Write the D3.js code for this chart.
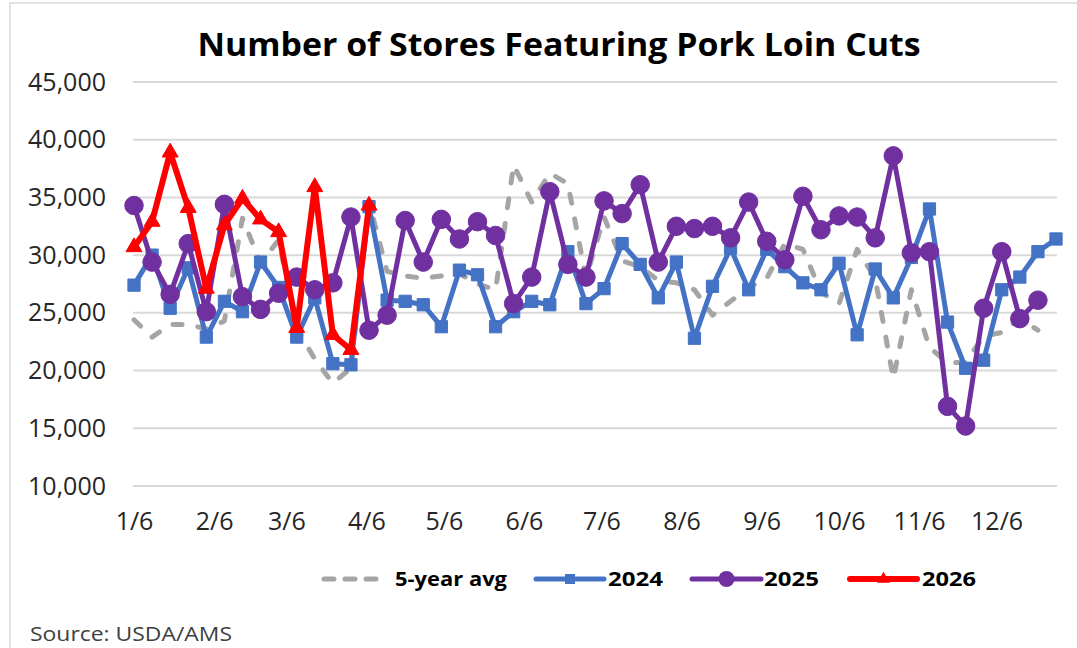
<!DOCTYPE html>
<html>
<head>
<meta charset="utf-8">
<script src="https://cdn.jsdelivr.net/npm/d3@7"></script>
<style>
    body { margin: 0; background: #fff; }
    svg { display: block; font-family: "Open Sans", "Noto Sans", sans-serif; }
</style>
</head>
<body>
<svg id="SVGlineChart" width="1077" height="648"></svg>
<script>
"use strict";

// weekly data, first point is the week of 1/6
const firstWeek = new Date(2025, 0, 6);
const tickLabels = ["1/6", "2/6", "3/6", "4/6", "5/6", "6/6", "7/6", "8/6", "9/6", "10/6", "11/6", "12/6"];
const yTicks = [10000, 15000, 20000, 25000, 30000, 35000, 40000, 45000];
const seriesNames = ["5-year avg", "2024", "2025", "2026"];

const avg5 = [24400, 22900, 24000, 24000, 23600, 24300, 33200, 29300, 31300, 23700,
    21000, 18900, 20200, 34600, 28600, 28200, 28000, 28200, 28400, 27500,
    27000, 37800, 34600, 37100, 36200, 28000, 33300, 29500, 29000, 27800,
    27600, 27000, 24800, 26000, 27200, 28000, 31000, 30500, 26800, 25800,
    30500, 28000, 19300, 27000, 22000, 20700, 20700, 23000, 23300, 24500, 23500];
const y2024 = [27400, 30000, 25400, 28900, 22900, 26000, 25100, 29400, 27200, 22900,
    26300, 20600, 20500, 34200, 26100, 26000, 25700, 23800, 28700, 28300,
    23800, 25100, 26000, 25700, 30300, 25800, 27100, 31000, 29200, 26300,
    29400, 22800, 27300, 30600, 27000, 30500, 29000, 27600, 27000, 29300,
    23100, 28800, 26300, 29800, 34000, 24200, 20200, 20900, 27000, 28100, 30300, 31400];
const y2025 = [34300, 29400, 26600, 31000, 25100, 34400, 26400, 25300, 26700, 28100,
    27000, 27600, 33300, 23500, 24800, 33000, 29400, 33100, 31400, 32900,
    31700, 25800, 28100, 35500, 29200, 28100, 34700, 33600, 36100, 29400,
    32500, 32300, 32500, 31500, 34600, 31200, 29600, 35100, 32200, 33400,
    33300, 31500, 38600, 30200, 30300, 16900, 15200, 25400, 30300, 24500, 26100];
const y2026 = [30700, 32900, 38900, 34100, 27100, 32600, 34900, 33100, 32000, 23700,
    35900, 23100, 21800, 34300];

const lineChart = {
    SVG: d3.select("#SVGlineChart"),
    width: 1077,
    height: 648,
    padding: {
        top: 82, right: 21, bottom: 162, left: 134
    },
    styles: [
        { color: "#A5A5A5", width: 5, dash: "9,16", marker: null },
        { color: "#4472C4", width: 5, dash: null, marker: "square" },
        { color: "#7030A0", width: 5, dash: null, marker: "circle" },
        { color: "#FF0000", width: 6, dash: null, marker: "triangle" }
    ],
    render: () => {
        const svg = lineChart.SVG;
        const p = lineChart.padding;
        const x = d3.scaleTime()
            .domain([firstWeek, d3.timeDay.offset(firstWeek, 357)])
            .range([p.left, lineChart.width - p.right]);
        const y = d3.scaleLinear()
            .domain([10000, 45000])
            .range([lineChart.height - p.bottom, p.top]);
        const weekX = (d, i) => x(d3.timeDay.offset(firstWeek, 7 * i));

        // chart area border (only the top and left edges are in the picture)
        svg.append("rect")
            .attr("x", 10).attr("y", 3)
            .attr("width", 1100).attr("height", 700)
            .style("fill", "none")
            .style("stroke", "#d9d9d9")
            .style("stroke-width", 1.5);

        // title
        svg.append("text")
            .attr("x", 559)
            .attr("y", 56)
            .attr("text-anchor", "middle")
            .attr("textLength", 723)
            .attr("lengthAdjust", "spacingAndGlyphs")
            .style("font-size", "33px")
            .style("font-weight", "bold")
            .text("Number of Stores Featuring Pork Loin Cuts");

        // gridlines
        svg.append("g")
            .selectAll("line")
            .data(yTicks)
            .enter()
            .append("line")
            .attr("x1", p.left - 1)
            .attr("x2", lineChart.width - p.right + 1)
            .attr("y1", d => y(d))
            .attr("y2", d => y(d))
            .style("stroke", "#d9d9d9")
            .style("stroke-width", 2);

        // y axis labels
        const yAxis = svg.append("g")
            .attr("transform", "translate(" + p.left + ",0)")
            .call(d3.axisLeft(y).tickValues(yTicks).tickFormat(d3.format(",")).tickSize(0).tickPadding(28));
        yAxis.select(".domain").remove();
        yAxis.selectAll("text")
            .style("font-size", "25px")
            .style("font-family", "'Open Sans', sans-serif")
            .style("fill", "#262626");

        // x axis labels, one on the 6th of every month
        const tickDates = tickLabels.map(t => {
            const parts = t.split("/");
            return new Date(2025, +parts[0] - 1, +parts[1]);
        });
        const xAxis = svg.append("g")
            .attr("transform", "translate(0," + (lineChart.height - p.bottom) + ")")
            .call(d3.axisBottom(x).tickValues(tickDates).tickFormat((d, i) => tickLabels[i]).tickSize(0).tickPadding(26));
        xAxis.select(".domain").remove();
        xAxis.selectAll("text")
            .style("font-size", "25px")
            .style("font-family", "'Open Sans', sans-serif")
            .style("fill", "#262626");

        // series
        const allSeries = [avg5, y2024, y2025, y2026];
        const line = d3.line().x(weekX).y(d => y(d));
        allSeries.forEach((values, k) => {
            const st = lineChart.styles[k];
            const g = svg.append("g").attr("class", "series");
            g.append("path")
                .attr("d", line(values))
                .style("fill", "none")
                .style("stroke", st.color)
                .style("stroke-width", st.width)
                .style("stroke-linejoin", "round")
                .style("stroke-linecap", st.dash ? "round" : "butt")
                .style("stroke-dasharray", st.dash);
            if (st.marker) {
                const sym = st.marker === "square" ? d3.symbolSquare
                    : st.marker === "circle" ? d3.symbolCircle : d3.symbolTriangle;
                const size = st.marker === "square" ? 150 : st.marker === "circle" ? 270 : 110;
                g.selectAll(".marker")
                    .data(values)
                    .enter()
                    .append("path")
                    .attr("class", "marker")
                    .attr("d", d3.symbol().type(sym).size(size))
                    .attr("transform", (d, i) => "translate(" + weekX(d, i) + "," + y(d) + ")")
                    .style("fill", st.color)
                    .style("stroke", st.color)
                    .style("stroke-width", 1);
            }
        });

        // legend
        const legendItems = [
            { x1: 321, x2: 381, tx: 395, tw: 112 },
            { x1: 536, x2: 604, tx: 608, tw: 55 },
            { x1: 692, x2: 761, tx: 764, tw: 55 },
            { x1: 850, x2: 917, tx: 922, tw: 54 }
        ];
        const ly = 579;
        legendItems.forEach((it, k) => {
            const st = lineChart.styles[k];
            const g = svg.append("g").attr("class", "legend");
            g.append("line")
                .attr("x1", it.x1 + (st.dash ? 3 : 0)).attr("x2", it.x2 - (st.dash ? 3 : 0))
                .attr("y1", ly).attr("y2", ly)
                .style("stroke", st.color)
                .style("stroke-width", st.width)
                .style("stroke-linecap", "round")
                .style("stroke-dasharray", st.dash ? "10,11" : null);
            if (st.marker) {
                const sym = st.marker === "square" ? d3.symbolSquare
                    : st.marker === "circle" ? d3.symbolCircle : d3.symbolTriangle;
                const size = st.marker === "square" ? 100 : st.marker === "circle" ? 200 : 70;
                g.append("path")
                    .attr("d", d3.symbol().type(sym).size(size))
                    .attr("transform", "translate(" + ((it.x1 + it.x2) / 2) + "," + ly + ")")
                    .style("fill", st.color);
            }
            g.append("text")
                .attr("x", it.tx)
                .attr("y", ly + 7)
                .attr("textLength", it.tw)
                .attr("lengthAdjust", "spacingAndGlyphs")
                .style("font-size", "20px")
                .style("font-weight", "bold")
                .text(seriesNames[k]);
        });

        // source note
        svg.append("text")
            .attr("x", 30)
            .attr("y", 641)
            .attr("textLength", 202)
            .attr("lengthAdjust", "spacingAndGlyphs")
            .style("font-size", "20px")
            .style("fill", "#404040")
            .text("Source: USDA/AMS");
    }
};

lineChart.render();
</script>
</body>
</html>
